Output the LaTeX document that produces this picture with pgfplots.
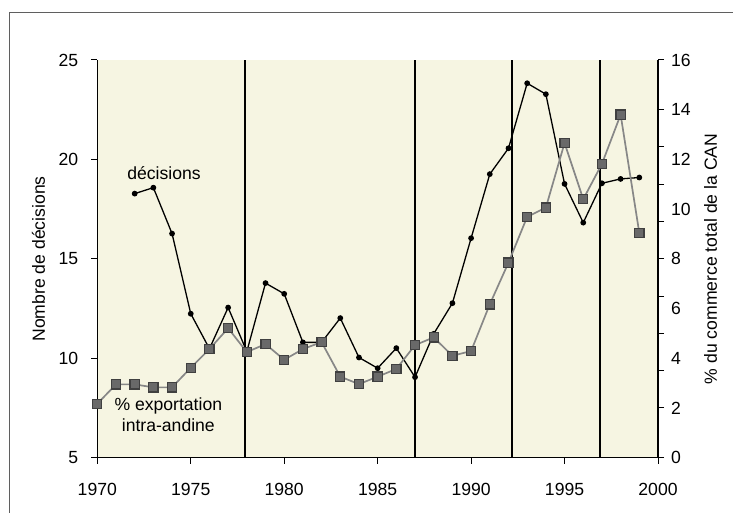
\documentclass[border=0pt]{standalone}
\usepackage{fontspec}
\setmainfont{Liberation Sans}
\usepackage{pgfplots}
\pgfplotsset{compat=1.18}
\definecolor{bgbeige}{RGB}{246,245,226}
\definecolor{sqfill}{RGB}{105,105,105}
\definecolor{sqline}{RGB}{135,135,135}
\definecolor{framegray}{RGB}{95,95,95}

\pgfplotstableread{
year dec
1972 18.28
1973 18.58
1974 16.27
1975 12.24
1976 10.48
1977 12.55
1978 10.34
1979 13.78
1980 13.24
1981 10.80
1982 10.80
1983 12.02
1984 10.04
1985 9.50
1986 10.51
1987 9.05
1988 11.23
1989 12.77
1990 16.04
1991 19.26
1992 20.56
1993 23.83
1994 23.28
1995 18.77
1996 16.82
1997 18.80
1998 19.02
1999 19.09
}\decisions

\pgfplotstableread{
year exp
1970 2.17
1971 2.95
1972 2.95
1973 2.83
1974 2.83
1975 3.62
1976 4.37
1977 5.21
1978 4.25
1979 4.57
1980 3.94
1981 4.37
1982 4.65
1983 3.26
1984 2.96
1985 3.26
1986 3.57
1987 4.53
1988 4.84
1989 4.10
1990 4.29
1991 6.17
1992 7.85
1993 9.69
1994 10.06
1995 12.66
1996 10.40
1997 11.82
1998 13.80
1999 9.04
}\exportation

\begin{document}
\begin{tikzpicture}[font=\fontsize{8.8}{10.5}\selectfont]
\useasboundingbox (0,0) rectangle (366.5pt,256.5pt);
\draw[framegray, line width=0.8pt] (4.65pt,0) -- (4.65pt,250.15pt) -- (366.5pt,250.15pt);
\pgfplotsset{
  base/.style={
    at={(48.65pt,27.65pt)}, anchor=south west,
    scale only axis, width=280.35pt, height=198.85pt,
    xmin=1970, xmax=2000,
    /pgf/number format/assume math mode=true,
    /pgf/number format/set thousands separator={},
    tick align=outside,
    major tick length=3pt,
    tick style={black, line width=0.5pt},
    axis line style={black, line width=0.6pt},
    clip=false,
  }
}
\begin{axis}[base,
  axis x line*=bottom, axis y line*=left,
  axis background/.style={fill=bgbeige},
  ymin=5, ymax=25,
  xtick={1970,1975,...,2000},
  ytick={5,10,...,25},
  xticklabel style={yshift=-6pt},
  yticklabel style={xshift=-3pt},
  ylabel={Nombre de décisions},
  ylabel style={at={(axis description cs:-0.105,0.5)}, anchor=center},
]
\addplot[black, line width=0.85pt] coordinates {(1977.9,5) (1977.9,25)};
\addplot[black, line width=0.85pt] coordinates {(1987,5) (1987,25)};
\addplot[black, line width=0.85pt] coordinates {(1992.2,5) (1992.2,25)};
\addplot[black, line width=0.85pt] coordinates {(1996.9,5) (1996.9,25)};
\addplot[black, line width=0.65pt, mark=*, mark size=1.1pt] table[x=year, y=dec] {\decisions};
\node at (axis cs:1973.57,19.32) {décisions};
\node[align=center, inner sep=0pt] at (axis cs:1973.8,7.15) {\% exportation\\intra-andine};
\end{axis}
\begin{axis}[base,
  axis x line=none, axis y line*=right,
  ymin=0, ymax=16,
  ytick={0,2,3.5,5,6.5,8,9.5,11,12.5,14,16},
  yticklabels={},
  extra y ticks={0,2,4,6,8,10,12,14,16},
  extra y tick style={major tick length=0pt},
  extra y tick labels={0,2,4,6,8,10,12,14,16},
  yticklabel style={xshift=3pt},
  ylabel={\% du commerce total de la CAN},
  ylabel style={at={(axis description cs:1.0937,0.5)}, anchor=center, rotate=0},
]
\addplot[sqline, line width=0.85pt, mark=square*, mark size=2.3pt,
  mark options={fill=sqfill, draw=black!75, line width=0.6pt}] table[x=year, y=exp] {\exportation};
\end{axis}
\end{tikzpicture}
\end{document}
